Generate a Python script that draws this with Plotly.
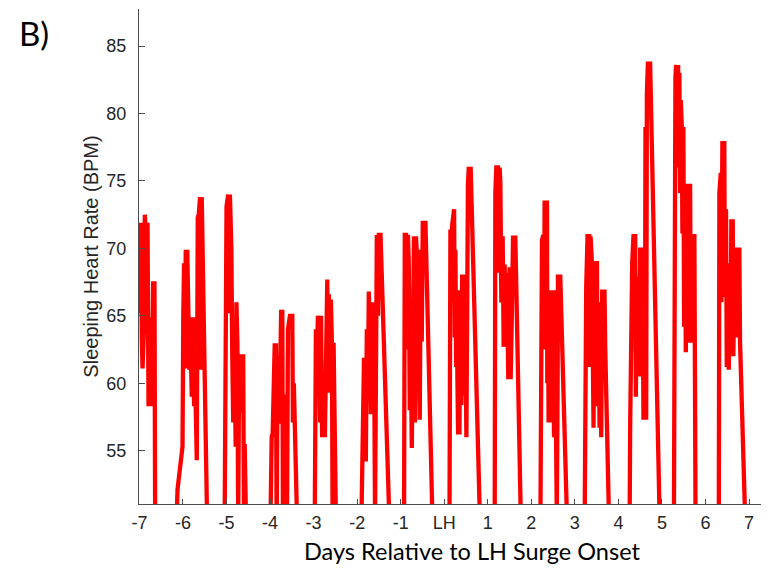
import plotly.graph_objects as go

# Sleeping heart rate, one block per night (days relative to LH surge onset, BPM)
# each block starts and ends below the visible range, as in the source trace
night_m7_days = [-7.014, -7.002, -6.984, -6.968, -6.945, -6.929, -6.899, -6.876, -6.846, -6.814,
                 -6.791, -6.761, -6.739, -6.716, -6.686, -6.654, -6.635]
night_m7_bpm = [67.2, 68.9, 65.2, 71.9, 63.2, 61.1, 63.7, 72.5, 70.4, 71.9,
                58.3, 64.9, 63.7, 58.3, 67.4, 67.4, 45]

night_m6_days = [-6.154, -6.126, -6.011, -5.993, -5.975, -5.954, -5.936, -5.920, -5.901, -5.874,
                 -5.856, -5.837, -5.798, -5.768, -5.745, -5.718, -5.683, -5.661, -5.638, -5.608,
                 -5.585, -5.569, -5.447]
night_m6_bpm = [49, 52.1, 55.3, 65, 68.9, 63, 69.9, 61.1, 69.9, 64.9,
                61, 64.9, 59, 64.9, 58.3, 60, 54.3, 72.3, 72.5, 73.8,
                61, 73.8, 50]

night_m5_days = [-5.046, -5.023, -5.000, -4.961, -4.945, -4.922, -4.888, -4.869, -4.846, -4.828,
                 -4.812, -4.789, -4.773, -4.750, -4.732, -4.709, -4.674, -4.651, -4.617, -4.599,
                 -4.583, -4.548]
night_m5_bpm = [48, 72.2, 73.1, 74.0, 65.2, 74.0, 69.9, 62.3, 57.1, 63.7,
                56.3, 55.3, 66, 63, 49.5, 62, 57.8, 62, 62, 50,
                55.5, 49]

night_m4_days = [-3.998, -3.963, -3.940, -3.894, -3.865, -3.849, -3.826, -3.791, -3.745, -3.718,
                 -3.704, -3.681, -3.631, -3.612, -3.589, -3.544, -3.489, -3.475, -3.454, -3.374]
night_m4_bpm = [48, 56, 56.3, 62.8, 62.8, 49, 62, 57, 65.3, 65.3,
                49.5, 59, 59, 49, 64, 65, 65, 57.1, 60, 49]

night_m3_days = [-2.977, -2.947, -2.924, -2.901, -2.874, -2.851, -2.828, -2.805, -2.771, -2.741,
                 -2.709, -2.686, -2.672, -2.649, -2.626, -2.603, -2.580, -2.564, -2.541, -2.484]
night_m3_bpm = [48, 64, 62, 65, 64.5, 57.1, 65, 56, 58, 56,
                67.7, 67.7, 60, 66.6, 59.3, 66.2, 63, 50, 63, 49]

night_m2_days = [-1.911, -1.883, -1.860, -1.842, -1.819, -1.800, -1.778, -1.755, -1.732, -1.709,
                 -1.686, -1.663, -1.640, -1.617, -1.589, -1.548, -1.521, -1.502, -1.463, -1.261]
night_m2_bpm = [48, 56, 60, 61.9, 57, 54.2, 64, 59, 66.8, 61,
                57.7, 66, 60, 66, 50, 71, 65, 71, 71, 50]

night_m1_days = [-0.924, -0.906, -0.878, -0.856, -0.833, -0.814, -0.791, -0.768, -0.745, -0.722,
                 -0.695, -0.672, -0.649, -0.626, -0.608, -0.585, -0.562, -0.539, -0.516, -0.493,
                 -0.431, -0.271]
night_m1_bpm = [48, 71, 71, 62.5, 71, 68.9, 58, 63, 55.2, 62,
                70.9, 57.1, 70.9, 69.4, 60.3, 64, 57.3, 69.9, 63.1, 71.9,
                71.9, 50]

night_lh_days = [0.119, 0.142, 0.165, 0.181, 0.204, 0.227, 0.241, 0.257, 0.273, 0.287,
                 0.303, 0.319, 0.333, 0.349, 0.372, 0.394, 0.411, 0.447, 0.459, 0.486,
                 0.509, 0.525, 0.544, 0.562, 0.608, 0.819]
night_lh_bpm = [48, 71.4, 66, 71.7, 72.9, 72.9, 63.4, 69.9, 61.2, 66.9,
                60.3, 56.2, 66.9, 56.2, 66.9, 58.4, 67.9, 67.9, 59.1, 64,
                56, 69.9, 74.7, 75.9, 75.9, 50]

night_p1_days = [1.158, 1.174, 1.197, 1.232, 1.250, 1.273, 1.289, 1.312, 1.342, 1.365,
                 1.388, 1.411, 1.427, 1.450, 1.472, 1.502, 1.525, 1.553, 1.580, 1.633, 1.759]
night_p1_bpm = [48, 74.1, 76, 76, 68.2, 76, 74.9, 66, 70.9, 62.7,
                68.8, 64, 68.2, 65.4, 60.3, 68.6, 60.3, 65, 70.8, 70.8, 50]

night_p2_days = [2.206, 2.222, 2.245, 2.275, 2.291, 2.305, 2.360, 2.367, 2.383, 2.397,
                 2.420, 2.436, 2.452, 2.475, 2.498, 2.521, 2.544, 2.557, 2.585, 2.603,
                 2.612, 2.665, 2.819]
night_p2_bpm = [48, 64.5, 70.6, 71, 62.5, 73.4, 73.4, 60, 66, 57.1,
                65, 66.9, 57.1, 65, 66.9, 56, 66.9, 60, 50, 59.3,
                67.9, 67.9, 50]

night_p3_days = [3.222, 3.239, 3.261, 3.291, 3.330, 3.342, 3.360, 3.392, 3.406, 3.429,
                 3.452, 3.507, 3.521, 3.544, 3.567, 3.583, 3.606, 3.628, 3.681, 3.697, 3.784]
night_p3_bpm = [48, 59, 67.2, 70.9, 70.9, 61.2, 70.9, 68.9, 61.2, 56.7,
                68.9, 68.9, 58.3, 66, 56.7, 66, 56, 66.8, 66.8, 62.7, 50]

night_p4_days = [4.255, 4.271, 4.294, 4.317, 4.346, 4.385, 4.401, 4.424, 4.447, 4.470,
                 4.484, 4.500, 4.553, 4.562, 4.576, 4.592, 4.608, 4.622, 4.638, 4.654,
                 4.677, 4.729, 4.947]
night_p4_bpm = [48, 57.1, 65.7, 68.9, 70.9, 70.9, 59, 67.9, 62.5, 67.9,
                60.5, 69.9, 69.9, 65, 57.3, 68.9, 57.3, 79, 57.3, 81.5,
                83.7, 83.7, 50]

night_p5_days = [5.273, 5.287, 5.310, 5.326, 5.349, 5.372, 5.383, 5.401, 5.417, 5.433,
                 5.456, 5.470, 5.493, 5.509, 5.532, 5.548, 5.571, 5.594, 5.624, 5.647,
                 5.663, 5.686, 5.745, 5.773]
night_p5_bpm = [48, 81.5, 82.7, 83.6, 79, 83.6, 76, 83, 74.1, 81,
                79, 71.1, 79, 64.2, 72.9, 62.3, 70, 74.8, 63, 74.8,
                63, 70.9, 70.9, 49]

night_p6_days = [6.305, 6.319, 6.351, 6.365, 6.388, 6.433, 6.443, 6.472, 6.489, 6.511,
                 6.534, 6.564, 6.576, 6.594, 6.626, 6.640, 6.663, 6.695, 6.718, 6.778,
                 6.794, 6.920]
night_p6_bpm = [48, 74.1, 75.6, 66, 77.8, 77.8, 66.4, 72.9, 61.2, 68.9,
                61, 67.4, 62.3, 72, 72, 62, 67.9, 63.4, 69.9, 69.9,
                63, 49]

x_ticks = [-7, -6, -5, -4, -3, -2, -1, 0, 1, 2, 3, 4, 5, 6, 7]
x_tick_labels = ['-7', '-6', '-5', '-4', '-3', '-2', '-1', 'LH', '1', '2', '3', '4', '5', '6', '7']
y_ticks = [55, 60, 65, 70, 75, 80, 85, 87.74]
y_tick_labels = ['55', '60', '65', '70', '75', '80', '85', '']

nights = [
    (night_m7_days, night_m7_bpm), (night_m6_days, night_m6_bpm), (night_m5_days, night_m5_bpm),
    (night_m4_days, night_m4_bpm), (night_m3_days, night_m3_bpm), (night_m2_days, night_m2_bpm),
    (night_m1_days, night_m1_bpm), (night_lh_days, night_lh_bpm), (night_p1_days, night_p1_bpm),
    (night_p2_days, night_p2_bpm), (night_p3_days, night_p3_bpm), (night_p4_days, night_p4_bpm),
    (night_p5_days, night_p5_bpm), (night_p6_days, night_p6_bpm),
]

days = []
bpm = []
for d, b in nights:
    days += d
    bpm += b

axis_grey = '#4d4d4d'
text_grey = '#262626'

fig = go.Figure()
fig.add_trace(go.Scatter(
    x=days, y=bpm, mode='lines',
    line=dict(color='#ff0000', width=4.3),
    showlegend=False,
))

fig.update_xaxes(
    range=[-7.01, 7.275],
    tickmode='array', tickvals=x_ticks, ticktext=x_tick_labels,
    ticks='inside', ticklen=5, tickwidth=1, tickcolor=axis_grey,
    showline=True, linewidth=1, linecolor=axis_grey,
    showgrid=False, zeroline=False,
    tickfont=dict(family='Liberation Sans', size=18, color=text_grey),
    ticklabelstandoff=2,
)
fig.update_yaxes(
    range=[51.05, 87.75],
    tickmode='array', tickvals=y_ticks, ticktext=y_tick_labels,
    ticks='inside', ticklen=6, tickwidth=1, tickcolor=axis_grey,
    showline=True, linewidth=1, linecolor=axis_grey,
    showgrid=False, zeroline=False,
    tickfont=dict(family='Liberation Sans', size=18, color=text_grey),
    ticklabelstandoff=8,
    title=dict(text='Sleeping Heart Rate (BPM)', standoff=2,
               font=dict(family='Liberation Sans', size=20, color=text_grey)),
)

# the page body has an 8px margin, so the figure is sized and placed to land
# where the reference axes are
fig.add_annotation(
    text='Days Relative to LH Surge Onset', xref='paper', yref='paper',
    x=(472 - 139) / 622, y=-(551 - 504) / 495, xanchor='center', yanchor='middle',
    showarrow=False, font=dict(family='Lato', size=23.5, color='#000000'),
)
fig.add_annotation(
    text='B)', xref='paper', yref='paper',
    x=-(139 - 17) / 622, y=1 - (33 - 9) / 495, xanchor='left', yanchor='middle',
    showarrow=False, font=dict(family='Lato', size=33, color='#000000'),
)

fig.update_layout(
    width=761, height=562,
    margin=dict(l=131, r=8, t=1, b=66, autoexpand=False),
    plot_bgcolor='white', paper_bgcolor='white',
)

fig.write_html("out.html")
